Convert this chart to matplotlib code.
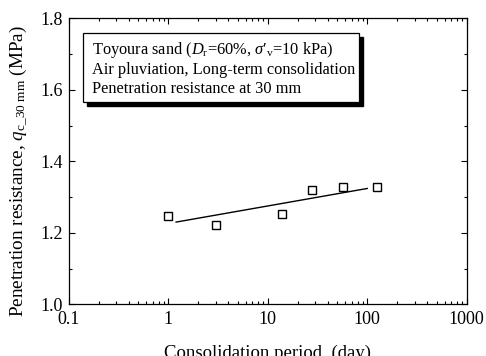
#!/usr/bin/env python3
# coding: utf-8

import matplotlib
matplotlib.use('Agg')
import matplotlib.pyplot as plt
from matplotlib.patches import Rectangle
from matplotlib.ticker import FuncFormatter, MultipleLocator, LogLocator

# measured points: consolidation period (day) vs q_c at 30 mm (MPa)
period_days = [1, 3, 14, 28, 57, 125]
qc_30mm = [1.247, 1.222, 1.254, 1.321, 1.327, 1.328]

# trend line end points
trend_days = [1.2, 100]
trend_qc = [1.230, 1.324]

x_ticks = [0.1, 1, 10, 100, 1000]
y_ticks = [1.0, 1.2, 1.4, 1.6, 1.8]

plt.rcParams['font.family'] = ['Liberation Serif', 'DejaVu Serif']
plt.rcParams['mathtext.fontset'] = 'custom'
plt.rcParams['mathtext.rm'] = 'Liberation Serif'
plt.rcParams['mathtext.it'] = 'Liberation Serif:italic'
plt.rcParams['font.size'] = 11

fig = plt.figure(figsize=(4.86, 3.56), dpi=100)
ax = fig.add_axes([0.1414, 0.1452, 0.819, 0.8034])

ax.plot(period_days, qc_30mm, linestyle='none', marker='s', markersize=5.5,
        markerfacecolor='white', markeredgecolor='black', markeredgewidth=1.0)
ax.plot(trend_days, trend_qc, color='black', linewidth=1.0)

ax.set_xscale('log')
ax.set_xlim(0.1, 1000)
ax.set_ylim(1.0, 1.8)
ax.set_xticks(x_ticks)
ax.xaxis.set_major_formatter(FuncFormatter(lambda v, _: f'{v:g}'))
ax.xaxis.set_minor_locator(LogLocator(base=10, subs=range(2, 10)))
ax.set_yticks(y_ticks)
ax.yaxis.set_major_formatter(FuncFormatter(lambda v, _: f'{v:.1f}'))
ax.yaxis.set_minor_locator(MultipleLocator(0.1))

ax.tick_params(which='both', direction='in', top=True, right=True, width=0.8)
ax.tick_params(which='major', length=4.5, labelsize=13)
ax.tick_params(which='minor', length=2.5)
ax.tick_params(axis='x', pad=5)
ax.tick_params(axis='y', pad=4)
for s in ax.spines.values():
    s.set_linewidth(0.9)

ax.set_xlabel('Consolidation period  (day)', fontsize=13.5, labelpad=12)
ax.set_ylabel(r'Penetration resistance, $q_{\mathrm{c\_30\ mm}}$ (MPa)', fontsize=13.8)
ax.yaxis.set_label_coords(-0.097, 0.466)

# text box with drop shadow
bx, by, bw, bh = 0.036, 0.707, 0.693, 0.242
ax.add_patch(Rectangle((bx + 0.010, by - 0.015), bw, bh, transform=ax.transAxes,
                       facecolor='black', edgecolor='black', zorder=4))
ax.add_patch(Rectangle((bx, by), bw, bh, transform=ax.transAxes,
                       facecolor='white', edgecolor='black', linewidth=0.9, zorder=5))
note = ('Toyoura sand ($D_{\\mathrm{r}}$=60%, $\\sigma$\u2032$_{\\mathrm{v}}$=10 kPa)\n'
        'Air pluviation, Long-term consolidation\n'
        'Penetration resistance at 30 mm')
ax.text(0.058, 0.925, note, transform=ax.transAxes, fontsize=11.8,
        va='top', ha='left', linespacing=1.22, zorder=6)

fig.savefig('out.png', dpi=100)
